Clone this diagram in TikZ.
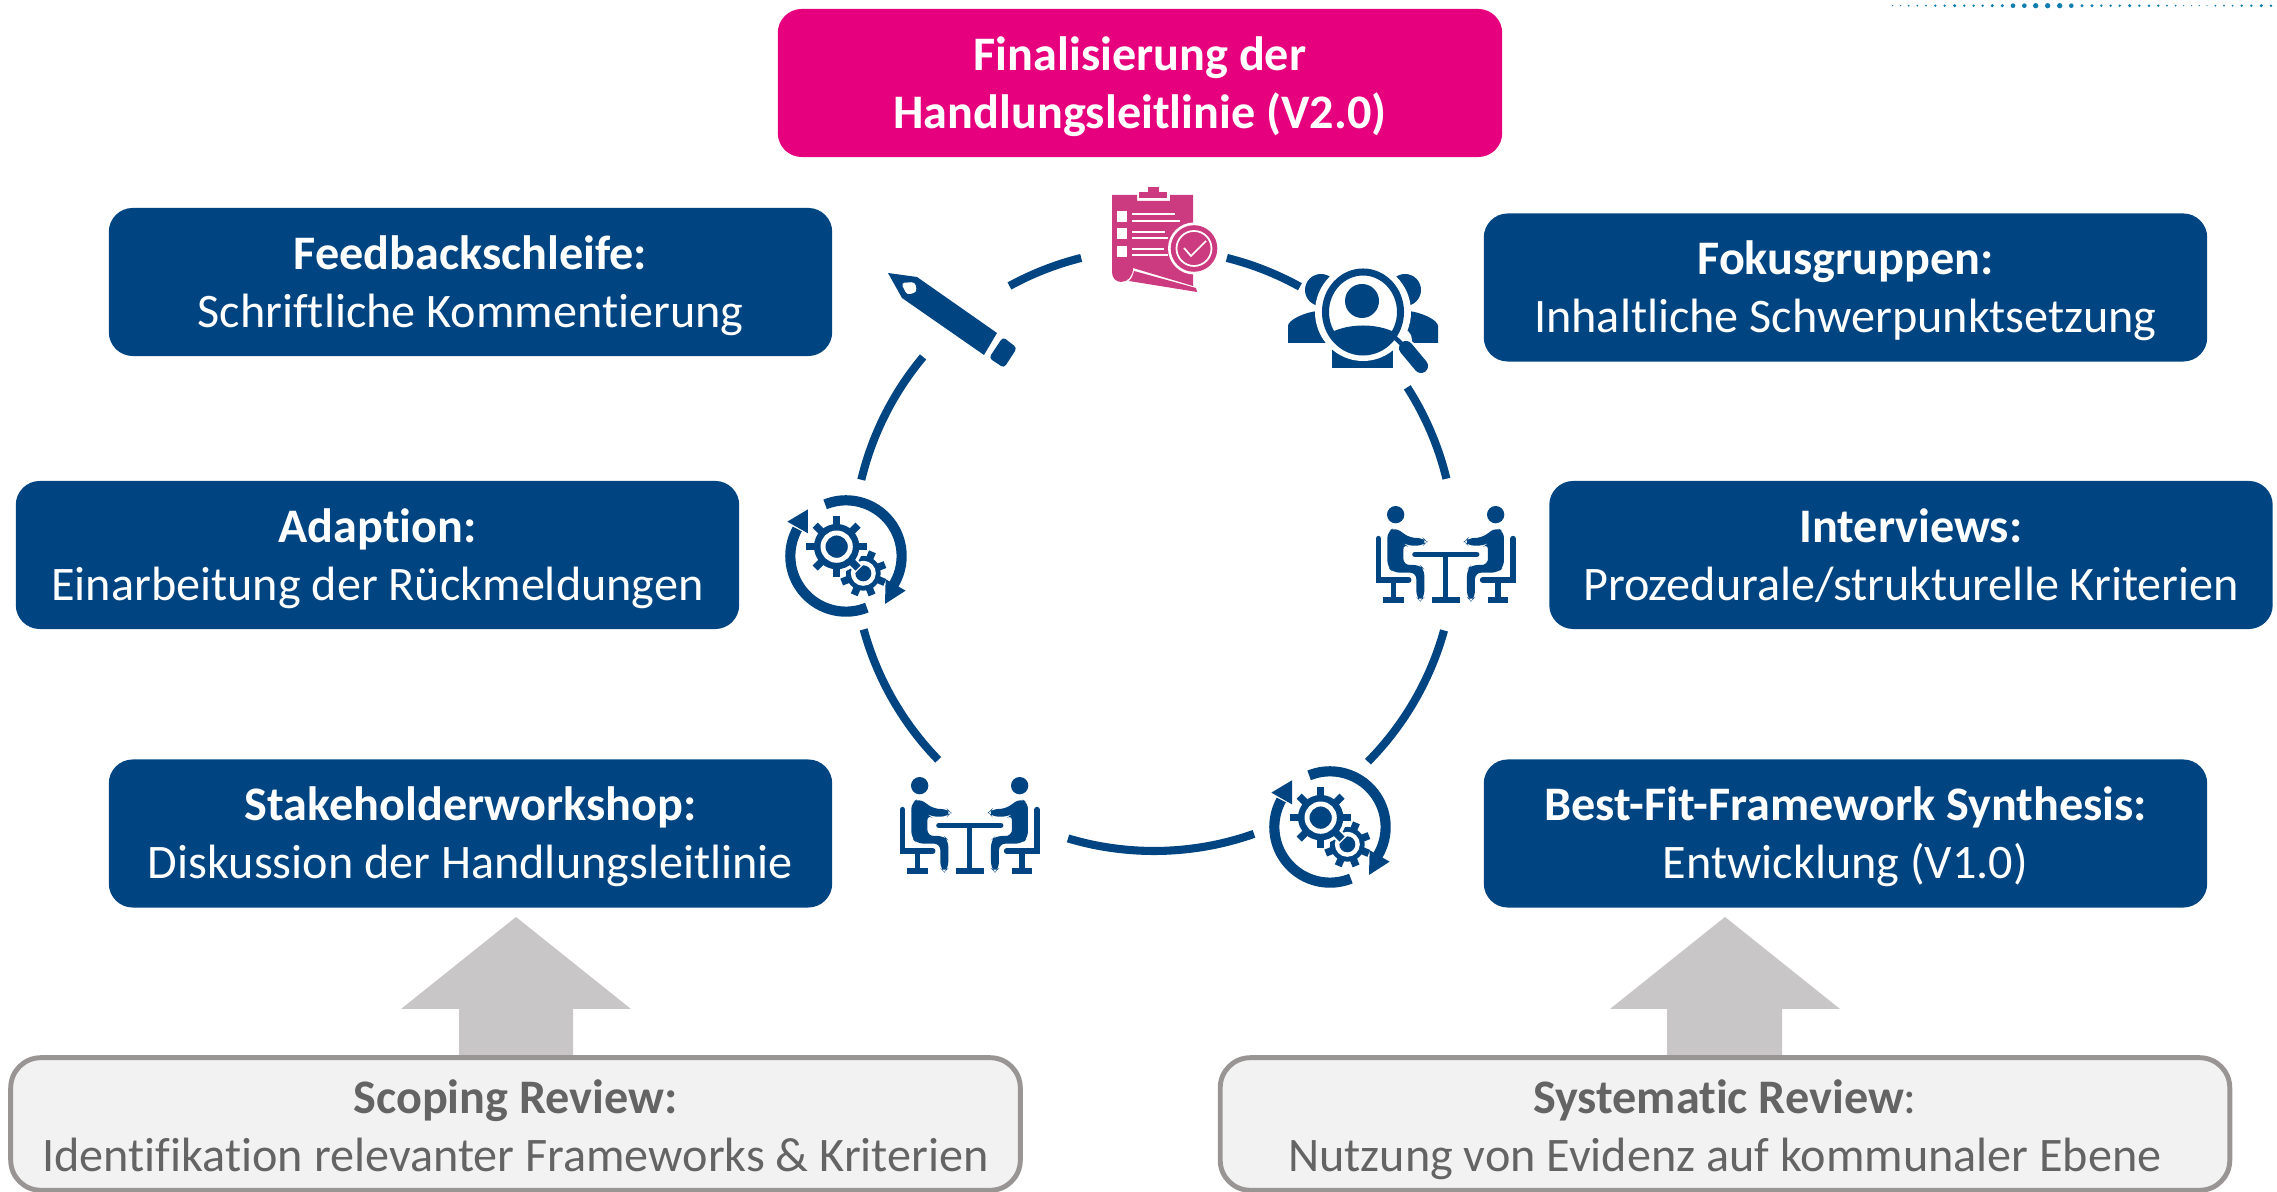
\documentclass[tikz,border=0pt]{standalone}
\usepackage{fontspec}
\setmainfont[Ligatures=NoCommon]{Carlito}
\usetikzlibrary{calc}
\definecolor{navy}{RGB}{0,68,129}
\definecolor{magentabox}{RGB}{230,0,126}
\definecolor{clipboardpink}{RGB}{204,58,127}
\definecolor{greyfill}{RGB}{242,242,242}
\definecolor{greyline}{RGB}{153,149,149}
\definecolor{greyarrow}{RGB}{200,198,199}
\definecolor{greytext}{RGB}{100,100,100}
\definecolor{dots}{RGB}{15,125,175}
\newcommand{\txtsize}{\fontsize{13.7pt}{16.5pt}\selectfont}
\newcommand{\twolines}[2]{\rule{0pt}{12.6pt}#1\\#2\rule[-3.3pt]{0pt}{1pt}}
\newcommand{\twolinesg}[2]{\rule{0pt}{14pt}#1\\#2\rule[-3.3pt]{0pt}{1pt}}
\newcommand{\tablepart}{%
    \fill[navy] (107,74) circle (26);
    \fill[navy,rounded corners=1.8pt] (105,112) -- (150,144) -- (190,144) -- (201,155) -- (190,167) -- (140,167) -- (130,160) -- (130,225) -- (180,225) -- (193,238) -- (193,322) -- (181,334) -- (169,322) -- (169,248) -- (100,248) -- (82,230) -- (82,125) -- cycle;
    \draw[navy,line width=1.6pt,line cap=round] (55,146) -- (55,270) -- (146,270);
    \draw[navy,line width=1.6pt] (100,270) -- (100,325);
    \fill[navy] (69,320) rectangle (131,338);
}
\tikzset{
  x=0.01cm,y=-0.01cm,
  navybox/.style={rounded corners=0.24cm,fill=navy,text=white,align=center,minimum width=7.23cm,minimum height=1.48cm,inner sep=0pt,font=\txtsize},
  pinkbox/.style={navybox,fill=magentabox,minimum width=7.24cm},
  greybox/.style={rounded corners=0.3cm,draw=greyline,line width=1.4pt,fill=greyfill,text=greytext,align=center,minimum width=10.09cm,minimum height=1.325cm,inner sep=0pt,font=\txtsize},
  ringarc/.style={draw=navy,line width=2.3pt},
  tableicon/.pic={
    \begin{scope}[scale=0.3333]
      \tablepart
      \begin{scope}[shift={(514,0)},xscale=-1]\tablepart\end{scope}
      \draw[navy,line width=1.6pt,line cap=round] (165,193) -- (350,193);
      \draw[navy,line width=1.6pt] (257,193) -- (257,325);
      \fill[navy] (215,320) rectangle (299,338);
    \end{scope}
  },
  gearicon/.pic={
    \begin{scope}[scale=0.3333]
      \draw[navy,line width=2.9pt] plot[domain=112:-31,samples=40] ({258+167*cos(\x)},{258-167*sin(\x)});
      \fill[navy] (377,328) -- (437,362) -- (375,402) -- cycle;
      \draw[navy,line width=2.9pt] plot[domain=-68:-209,samples=50] ({258+167*cos(\x)},{258-167*sin(\x)});
      \fill[navy] (144,118) -- (82,155) -- (144,190) -- cycle;
      % small gear
      \foreach \a in {0,45,...,315}{\fill[navy,shift={(310,310)},rotate=\a+22] (-11,0) rectangle (11,-70);}
      \fill[navy] (310,310) circle (52);
      \draw[white,line width=1.4pt] (310,310) circle (30);
      \fill[navy] (310,310) circle (24);
      % halo + big gear
      \foreach \a in {0,45,...,315}{\fill[white,shift={(230,230)},rotate=\a] (-16,0) rectangle (16,-95);}
      \fill[white] (230,230) circle (78);
      \foreach \a in {0,45,...,315}{\fill[navy,shift={(230,230)},rotate=\a] (-11,0) rectangle (11,-91);}
      \fill[navy] (230,230) circle (68);
      \draw[white,line width=1.4pt] (230,230) circle (41);
    \end{scope}
  }
}
\newcommand{\ringpiece}[2]{\draw[ringarc] plot[domain=#1:#2,samples=40] ({1154+301*cos(\x)},{550-301*sin(\x)});}
\begin{document}
\begin{tikzpicture}
\useasboundingbox (0,0) rectangle (2277,1192);
% ring
\ringpiece{118.7}{104}
\ringpiece{76}{61}
\ringpiece{32.7}{13.7}
\ringpiece{-15.5}{-44.7}
\ringpiece{-70.6}{-106.6}
\ringpiece{224.2}{195.3}
\ringpiece{166.5}{140.1}
% top-right dots
\foreach \X/\r in {38/2,62/2,86/3,112/3,138/3,166/4,194/4,224/5,253/4,281/4,308/4,337/5,367/5,399/7,433/7,467/8,503/8,539/8,574/7,606/5,636/5,664/4,692/4,719/4,749/5,778/4,807/4,835/4,861/3,887/3,911/2,935/2,958/2,981/2,1006/3,1032/3,1058/3,1085/4,1114/4,1144/5,1173/4}
  {\fill[dots] ({1880+\X/3},5.7) circle ({\r/3});}
% boxes
\node[pinkbox] (top) at (1140,83) {\twolines{\textbf{Finalisierung der}}{\textbf{Handlungsleitlinie (V2.0)}}};
\node[navybox] (fb) at (470.5,282) {\twolines{\textbf{Feedbackschleife:}}{Schriftliche Kommentierung}};
\node[navybox] (fg) at (1845.5,287.5) {\twolines{\textbf{Fokusgruppen:}}{Inhaltliche Schwerpunktsetzung}};
\node[navybox] (ad) at (377.5,555) {\twolines{\textbf{Adaption:}}{Einarbeitung der Rückmeldungen}};
\node[navybox] (iv) at (1911,555) {\twolines{\textbf{Interviews:}}{Prozedurale/strukturelle Kriterien}};
\node[navybox] (sw) at (470.5,833.5) {\twolines{\textbf{Stakeholderworkshop:}}{Diskussion der Handlungsleitlinie}};
\node[navybox] (bf) at (1845.5,833.5) {\twolines{\textbf{Best-Fit-Framework Synthesis:}}{Entwicklung (V1.0)}};
% block arrows
\fill[greyarrow] (459,1070) -- (459,1009) -- (401,1009) -- (516,917) -- (631,1009) -- (573,1009) -- (573,1070) -- cycle;
\fill[greyarrow] (1667,1070) -- (1667,1009) -- (1610,1009) -- (1725,917) -- (1840,1009) -- (1782,1009) -- (1782,1070) -- cycle;
\node[greybox] (sr) at (515.5,1124) {\twolinesg{\textbf{Scoping Review:}}{Identifikation relevanter Frameworks \& Kriterien}};
\node[greybox] (sy) at (1725,1124) {\twolinesg{\textbf{Systematic Review}:}{Nutzung von Evidenz auf kommunaler Ebene}};
% icons
\pic at (1360,490) {tableicon};
\pic at (884,761) {tableicon};
\pic at (760,470) {gearicon};
\pic at (1244,741) {gearicon};
% pencil
\fill[navy] (888,273) -- (917,277) -- (997,333) -- (984,355) -- (902,298) -- cycle;
\fill[white,rounded corners=1pt] (901,283) -- (915,282) -- (917,292) -- (907,295) -- cycle;
\fill[navy,rounded corners=1pt] (1003,337) -- (1017,348) -- (1004,368) -- (989,358) -- cycle;
% clipboard
\fill[clipboardpink] (1112,195) -- (1137,195) -- (1137,201) -- (1170,201) -- (1170,195) -- (1193,195) -- (1193,286) -- (1133,268) .. controls (1133,276) and (1128,282) .. (1121,282) .. controls (1116,282) and (1112,278) .. (1112,272) -- cycle;
\fill[clipboardpink] (1139,192) rectangle (1167,198);
\fill[clipboardpink] (1148,187) rectangle (1159,193);
\fill[clipboardpink] (1134,271) -- (1196,288) -- (1197,292) -- (1129,281) .. controls (1132,278) and (1133,275) .. (1134,271) -- cycle;
\foreach \yy in {211,228,246}{\fill[white] (1117,\yy) rectangle (1127,\yy+11);}
\foreach \yy/\xx in {214/1175,221/1180,232/1165,238/1168,249/1164,255/1168}{\fill[white] (1132,\yy-1) rectangle (\xx,\yy+1);}
\fill[white] (1194,248.5) circle (26);
\fill[clipboardpink] (1194,248.5) circle (23.3);
\draw[white,line width=0.5pt] (1194,248.5) circle (17.5);
\draw[white,line width=0.5pt] (1184,248) -- (1191,256) -- (1206,241);
% focus group
\fill[navy] (1321,290) circle (16);
\fill[navy] (1405,290) circle (16);
\fill[navy] (1288,343) -- (1288,326) .. controls (1288,320) and (1305,312) .. (1318,311) -- (1340,311) -- (1340,343) -- cycle;
\fill[navy] (1438,343) -- (1438,326) .. controls (1438,320) and (1421,312) .. (1408,311) -- (1386,311) -- (1386,343) -- cycle;
\fill[navy] (1332,345) rectangle (1393,368);
\fill[white] (1363,312) ellipse (48 and 49);
\fill[white] (1400,340) circle (12);
\begin{scope}
  \clip (1363,312) ellipse (38 and 40);
  \fill[navy] (1325,360) -- (1325,336) .. controls (1345,322) and (1381,322) .. (1401,336) -- (1401,360) -- cycle;
\end{scope}
\draw[navy,line width=2pt] (1363,312) ellipse (37.5 and 40);
\fill[navy] (1362,301) circle (17);
\draw[white,line width=5.2pt,line cap=round] (1406,348) -- (1421,366);
\draw[navy,line width=1.3pt] (1390,333) -- (1405,347);
\draw[navy,line width=4pt,line cap=round] (1406,348) -- (1421,366);
\end{tikzpicture}
\end{document}
